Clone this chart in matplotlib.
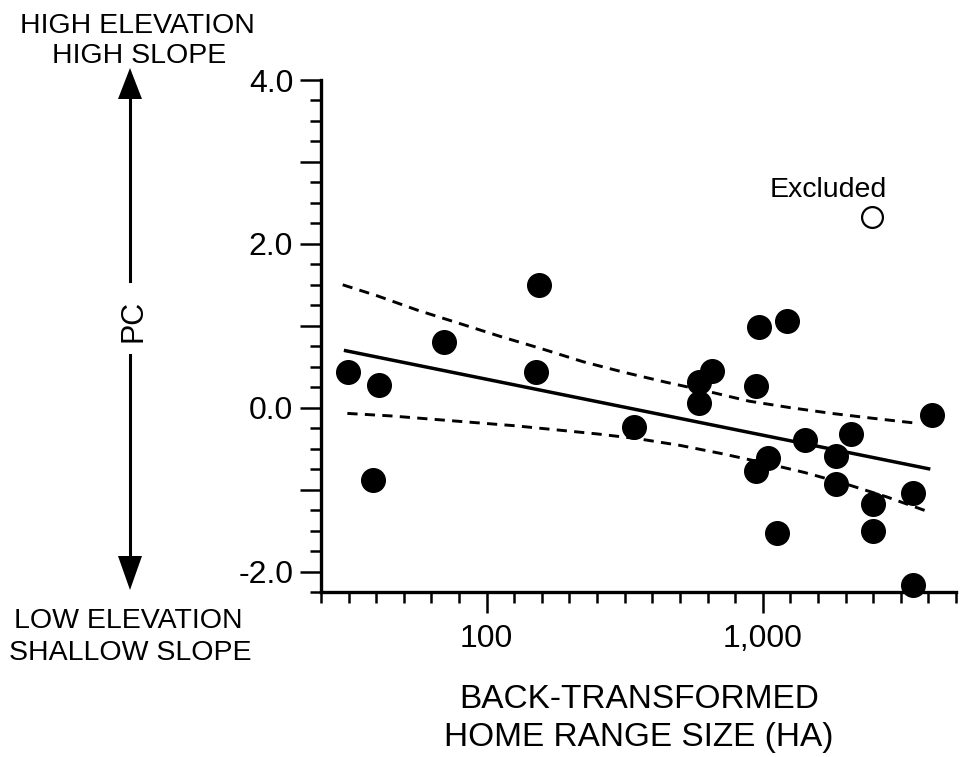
import matplotlib.pyplot as plt
import numpy as np
from matplotlib.ticker import FixedLocator, NullFormatter

plt.rcParams['font.family'] = ['Liberation Sans', 'DejaVu Sans']

# points used in the fit (home range in ha, PC score)
home_range = [31.5, 40.7, 38.7, 70.2, 155, 151, 342, 590, 590, 654, 942, 942,
              970, 1043, 1130, 1222, 1426, 1845, 1845, 2094, 2518, 2518,
              3516, 3516, 4111]
pc_score = [0.43, 0.28, -0.88, 0.80, 1.50, 0.43, -0.23, 0.31, 0.06, 0.45, 0.27,
            -0.77, 0.98, -0.62, -1.53, 1.06, -0.39, -0.59, -0.93, -0.32, -1.17,
            -1.51, -1.04, -2.16, -0.09]

# excluded point
excl_x = [2483]
excl_y = [2.33]

# regression line
fit_x = [30.4, 4046]
fit_y = [0.70, -0.75]

# confidence band
upper_x = [30.1, 39.8, 56.2, 79.4, 112, 158, 224, 316, 447, 631, 891, 1259,
           1778, 2512, 3614]
upper_y = [1.50, 1.37, 1.19, 1.03, 0.87, 0.72, 0.56, 0.43, 0.31, 0.20, 0.08,
           0.0, -0.07, -0.13, -0.19]
lower_x = [31.3, 44.7, 63.1, 89.1, 126, 178, 251, 355, 501, 708, 1000, 1413,
           1995, 2818, 3981]
lower_y = [-0.07, -0.10, -0.14, -0.18, -0.22, -0.27, -0.32, -0.38, -0.46, -0.56,
           -0.67, -0.79, -0.93, -1.09, -1.27]

x_major = [100, 1000]
x_labels = ['100', '1,000']
y_major = [-2, -1, 0, 1, 2, 3, 4]
y_labels = ['-2.0', '', '0.0', '', '2.0', '', '4.0']

W, H = 964, 757
fig = plt.figure(figsize=(W / 100, H / 100), dpi=100)


def fx(px):
    return px / W


def fy(py):
    return 1 - py / H


ax = fig.add_axes([fx(321), fy(592), fx(956) - fx(321), fy(80) - fy(592)])
ax.set_xscale('log')
ax.set_xlim(10**1.4, 10**3.7)
ax.set_ylim(-2.25, 4.0)

ax.plot(fit_x, fit_y, color='k', lw=2.5, solid_capstyle='butt')
ax.plot(upper_x, upper_y, color='k', lw=2.1, linestyle=(0, (3.5, 2.5)))
ax.plot(lower_x, lower_y, color='k', lw=2.1, linestyle=(0, (3.5, 2.5)))
ax.plot(home_range, pc_score, 'o', color='k', markersize=17, clip_on=False, zorder=3)
ax.plot(excl_x, excl_y, 'o', mfc='white', mec='k', mew=1.6, markersize=15, zorder=3)
ax.annotate('Excluded', xy=(excl_x[0], excl_y[0]), xytext=(-31, 19),
            textcoords='offset points', ha='center', va='center', fontsize=20.5)

for side in ['top', 'right']:
    ax.spines[side].set_visible(False)
for side in ['left', 'bottom']:
    ax.spines[side].set_linewidth(2.4)

ax.xaxis.set_major_locator(FixedLocator(x_major))
ax.set_xticklabels(x_labels)
minors = [m for m in 10**np.arange(1.4, 3.7001, 0.1)
          if 0.01 < np.log10(m) % 1 < 0.99]
ax.xaxis.set_minor_locator(FixedLocator(minors))
ax.xaxis.set_minor_formatter(NullFormatter())

ax.yaxis.set_major_locator(FixedLocator(y_major))
ax.set_yticklabels(y_labels)
ax.yaxis.set_minor_locator(FixedLocator(np.arange(-2.25, 4.01, 0.25)))

ax.tick_params(which='major', length=15, width=1.8, labelsize=23, direction='out')
ax.tick_params(which='minor', length=7.7, width=1.8, direction='out')
ax.tick_params(axis='x', which='major', pad=8)
ax.tick_params(axis='y', which='major', pad=5)

# x label lines
fig.text(fx(639), fy(708), 'BACK-TRANSFORMED', ha='center', va='baseline', fontsize=24)
fig.text(fx(639), fy(746), 'HOME RANGE SIZE (HA)', ha='center', va='baseline', fontsize=24)

# left side annotation
fig.text(fx(137), fy(33), 'HIGH ELEVATION', ha='center', va='baseline', fontsize=20.5)
fig.text(fx(139), fy(63), 'HIGH SLOPE', ha='center', va='baseline', fontsize=20.5)
fig.text(fx(128), fy(628), 'LOW ELEVATION', ha='center', va='baseline', fontsize=20.5)
fig.text(fx(130), fy(660), 'SHALLOW SLOPE', ha='center', va='baseline', fontsize=20.5)
fig.text(fx(134), fy(321), 'PC', rotation=90, ha='center', va='center', fontsize=22)

ov = fig.add_axes([0, 0, 1, 1], zorder=-1)
ov.set_xlim(0, W)
ov.set_ylim(H, 0)
ov.axis('off')
ov.plot([130, 130], [96, 281], color='k', lw=2.2)
ov.plot([130, 130], [355, 558], color='k', lw=2.2)
ov.fill([130, 118, 142], [68, 99, 99], color='k', lw=0)
ov.fill([130, 118, 142], [590, 556, 556], color='k', lw=0)

fig.savefig('out.png', dpi=100)
